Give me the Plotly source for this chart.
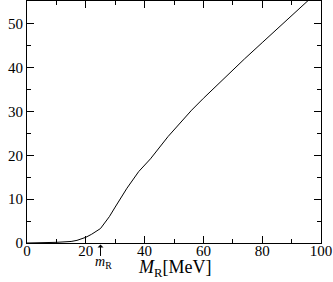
import plotly.graph_objects as go

mass = [0, 5, 10, 15, 17, 20, 22, 25, 28, 30, 34, 38, 42, 48, 56, 60, 67, 74, 80, 88, 96, 100]
value = [0, 0.05, 0.15, 0.35, 0.6, 1.3, 2.0, 3.3, 6.0, 8.2, 12.5, 16.3, 19.2, 24.3, 30.3, 33.0, 37.6, 42.0, 45.7, 50.6, 55.6, 58.0]
m_r = 25
x_ticks = [0, 20, 40, 60, 80, 100]
y_ticks = [0, 10, 20, 30, 40, 50]

font = "'Liberation Serif', 'DejaVu Serif', serif"

fig = go.Figure()
fig.add_trace(go.Scatter(x=mass, y=value, mode="lines",
                         line=dict(color="black", width=1), showlegend=False, hoverinfo="skip"))

axis_common = dict(
    showline=True, linecolor="black", linewidth=1, mirror="ticks",
    ticks="inside", ticklen=7, tickcolor="black", tickwidth=1,
    showgrid=False, zeroline=False, automargin=False,
    tickfont=dict(family=font, size=15, color="black"),
)

fig.update_xaxes(range=[0, 100], tickvals=x_ticks, ticklabelstandoff=-6,
                 minor=dict(ticks="inside", ticklen=4, dtick=10, tick0=0, tickcolor="black", showgrid=False),
                 **axis_common)
fig.update_yaxes(range=[0, 55.2], tickvals=y_ticks, ticklabelstandoff=0,
                 minor=dict(ticks="inside", ticklen=4, dtick=5, tick0=0, tickcolor="black", showgrid=False),
                 **axis_common)

fig.add_annotation(x=m_r, xref="x", y=-0.006, yref="paper", ax=0, ay=13,
                   showarrow=True, arrowhead=1, arrowsize=1, arrowwidth=1, arrowcolor="black", text="")
fig.add_annotation(x=m_r, xref="x", xshift=3, y=-0.081, yref="paper", yanchor="middle",
                   text="<i>m</i><sub>R</sub>", showarrow=False,
                   font=dict(family=font, size=14, color="black"))
fig.add_annotation(x=0.5, xref="paper", y=-0.105, yref="paper", yanchor="middle",
                   text="<i>M</i><sub>R</sub>[MeV]", showarrow=False,
                   font=dict(family=font, size=18, color="black"))

fig.update_layout(width=333, height=282,
                  margin=dict(l=27, r=12, t=1, b=39),
                  plot_bgcolor="white", paper_bgcolor="white",
                  font=dict(family=font, color="black"))

fig.write_html("out.html", config={"displayModeBar": False},
               post_script="document.body.style.margin='0';")
